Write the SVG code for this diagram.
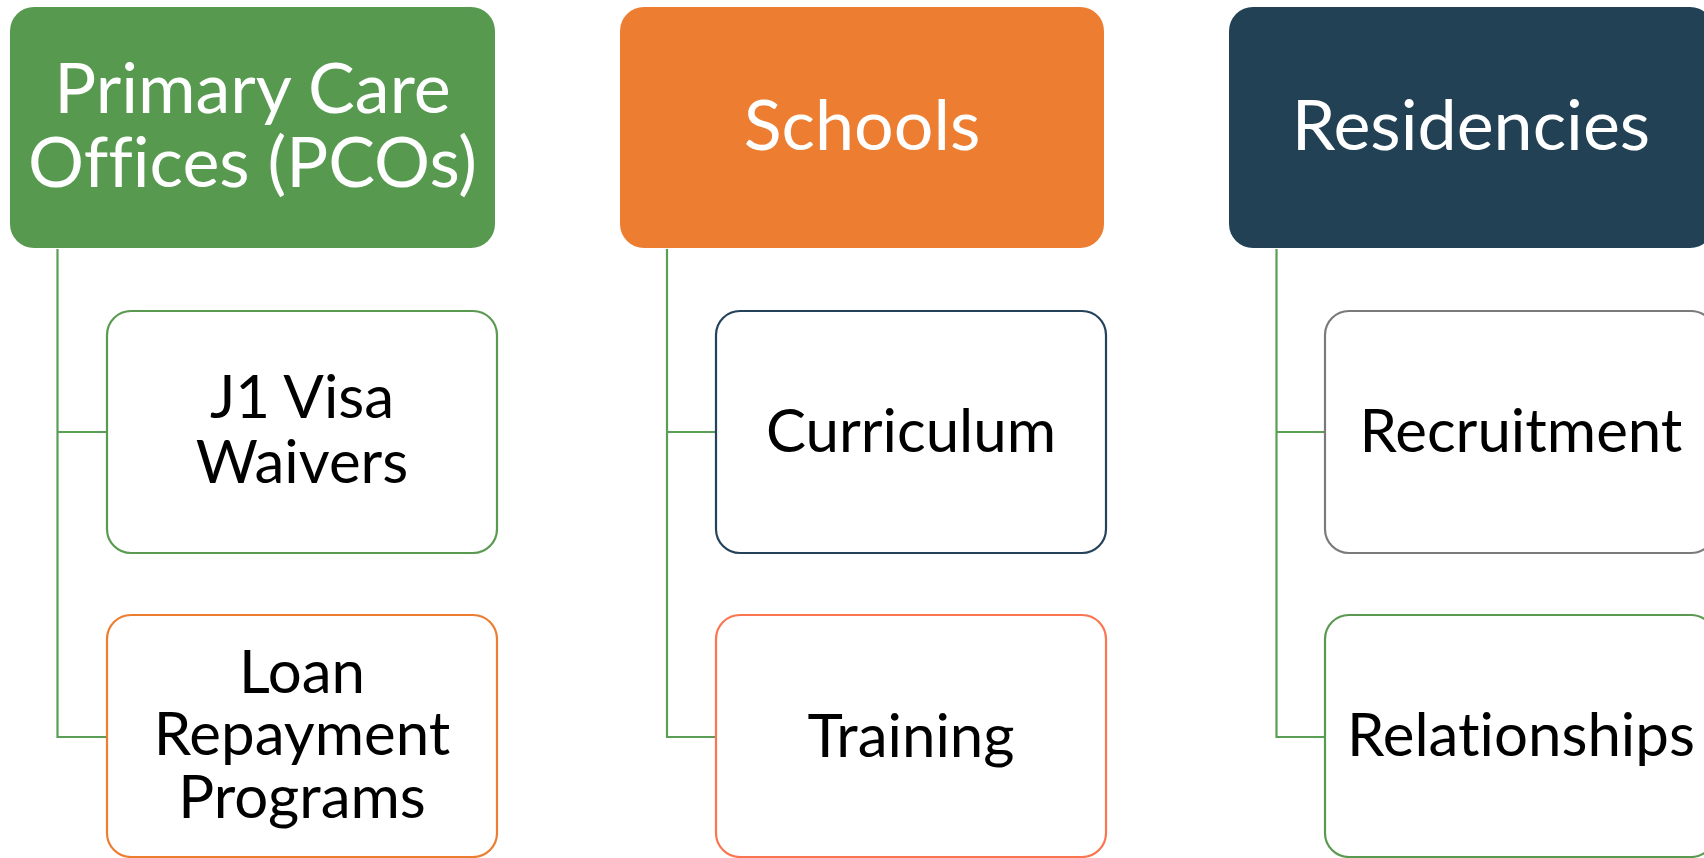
<svg xmlns="http://www.w3.org/2000/svg" width="1704" height="858" viewBox="0 0 1704 858">
  <style>
    .head { stroke: none; }
    .child { fill: #ffffff; stroke-width: 2.2; }
    .htxt { font-family: Lato, "Open Sans", sans-serif; font-size: 70px; fill: #ffffff; text-anchor: middle; font-variant-ligatures: none; }
    .ctxt { font-family: Lato, "Open Sans", sans-serif; font-size: 60px; fill: #000000; text-anchor: middle; font-variant-ligatures: none; }
    .link { fill: none; stroke: #5B9E55; stroke-width: 2.2; }
  </style>
  <rect width="1704" height="858" fill="#ffffff"/>

  <!-- tree connectors -->
  <g id="connectors">
    <path class="link" d="M57.5 249 V737 H106 M57.5 432 H106"/>
    <path class="link" d="M667 249 V737 H715 M667 432 H715"/>
    <path class="link" d="M1276.5 249 V737 H1324 M1276.5 432 H1324"/>
  </g>

  <!-- column 1 -->
  <g id="pcos">
    <rect class="head" x="10" y="7" width="485" height="241" rx="24" fill="#56994F"/>
    <text class="htxt" x="252.5" y="113">Primary Care</text>
    <text class="htxt" x="252.5" y="187">Offices (PCOs)</text>
  </g>
  <g id="j1-visa">
    <rect class="child" x="107" y="311" width="390" height="242" rx="24" stroke="#5A9A50"/>
    <text class="ctxt" x="302" y="418">J1 Visa</text>
    <text class="ctxt" x="302" y="483">Waivers</text>
  </g>
  <g id="loan-repayment">
    <rect class="child" x="107" y="615" width="390" height="242" rx="24" stroke="#ED7D31"/>
    <text class="ctxt" x="302" y="693">Loan</text>
    <text class="ctxt" x="302" y="755">Repayment</text>
    <text class="ctxt" x="302" y="818">Programs</text>
  </g>

  <!-- column 2 -->
  <g id="schools">
    <rect class="head" x="620" y="7" width="484" height="241" rx="24" fill="#ED7D31"/>
    <text class="htxt" x="862" y="150">Schools</text>
  </g>
  <g id="curriculum">
    <rect class="child" x="716" y="311" width="390" height="242" rx="24" stroke="#24425A"/>
    <text class="ctxt" x="911" y="452">Curriculum</text>
  </g>
  <g id="training">
    <rect class="child" x="716" y="615" width="390" height="242" rx="24" stroke="#FA7550"/>
    <text class="ctxt" x="911" y="757">Training</text>
  </g>

  <!-- column 3 -->
  <g id="residencies">
    <rect class="head" x="1229" y="7" width="485" height="241" rx="24" fill="#224155"/>
    <text class="htxt" x="1471" y="150">Residencies</text>
  </g>
  <g id="recruitment">
    <rect class="child" x="1325" y="311" width="390" height="242" rx="24" stroke="#7A7A7A"/>
    <text class="ctxt" x="1521" y="452">Recruitment</text>
  </g>
  <g id="relationships">
    <rect class="child" x="1325" y="615" width="390" height="242" rx="24" stroke="#5A9A50"/>
    <text class="ctxt" x="1521" y="756">Relationships</text>
  </g>
</svg>
